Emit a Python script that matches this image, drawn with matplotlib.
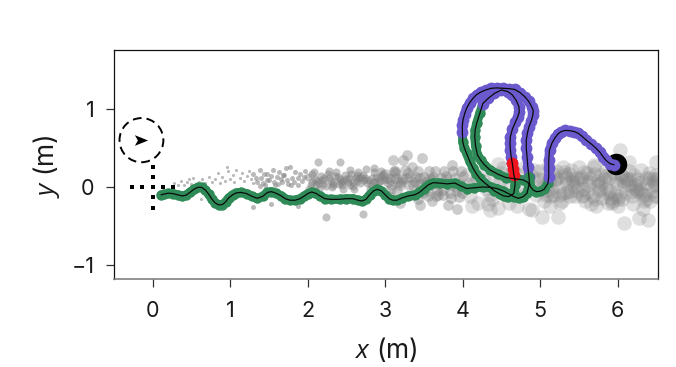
import matplotlib
matplotlib.use('Agg')
from matplotlib import pyplot as plt
from matplotlib.patches import Circle
from matplotlib.path import Path

plt.rcParams['font.family'] = ['Inter', 'DejaVu Sans']
plt.rcParams['mathtext.fontset'] = 'custom'
plt.rcParams['mathtext.it'] = 'Open Sans:italic'
plt.rcParams['mathtext.rm'] = 'Inter'

# trajectory, one list pair per behaviour segment
green1_x = [.11, .15, .20, .26, .32, .38, .43, .48, .53, .58, .63, .68, .72, .76, .80, .85, .90, .94, .98, 1.03,
            1.08, 1.14, 1.21, 1.28, 1.35, 1.42, 1.48, 1.53, 1.59, 1.65, 1.71, 1.77, 1.84, 1.90, 1.95, 2.00, 2.05,
            2.10, 2.16, 2.22, 2.30, 2.41, 2.50, 2.58, 2.65, 2.70, 2.75, 2.80, 2.85, 2.90, 2.95, 3.00, 3.05, 3.10,
            3.15, 3.22, 3.30, 3.38, 3.44, 3.50, 3.56, 3.62, 3.70, 3.80, 3.90, 3.98, 4.05, 4.15, 4.26, 4.36, 4.44,
            4.52, 4.60, 4.66, 4.72, 4.78, 4.83, 4.855, 4.84, 4.78, 4.68, 4.56, 4.45, 4.35, 4.28, 4.23, 4.19, 4.165,
            4.155, 4.16, 4.18, 4.22, 4.26]
green1_y = [-.10, -.09, -.08, -.085, -.10, -.115, -.105, -.07, -.03, -.005, -.005, -.04, -.09, -.15, -.20, -.23,
            -.225, -.19, -.14, -.10, -.075, -.07, -.085, -.12, -.145, -.12, -.07, -.06, -.08, -.11, -.15, -.17,
            -.17, -.15, -.12, -.085, -.065, -.08, -.115, -.15, -.16, -.158, -.15, -.15, -.17, -.18, -.16, -.10,
            -.05, -.03, -.05, -.10, -.15, -.17, -.17, -.14, -.115, -.10, -.07, -.02, .03, .055, .05, .04, .05,
            .01, -.02, -.01, 0, -.005, -.02, -.05, -.09, -.125, -.145, -.125, -.08, .025, .06, .09, .105, .12,
            .165, .22, .285, .346, .41, .53, .645, .73, .816, .944, 1.07]
purple1_x = [4.26, 4.33, 4.41, 4.50, 4.585, 4.64, 4.69, 4.725, 4.73, 4.71, 4.68, 4.64, 4.615, 4.61, 4.615, 4.625, 4.64]
purple1_y = [1.07, 1.137, 1.20, 1.244, 1.222, 1.18, 1.11, 1.03, .96, .90, .83, .74, .645, .56, .474, .39, .303]
red_x = [4.64, 4.65, 4.66]
red_y = [.303, .23, .154]
green2_x = [4.66, 4.675, 4.675, 4.66, 4.625, 4.585, 4.53, 4.477, 4.41, 4.35, 4.28, 4.22, 4.175, 4.133, 4.09, 4.05,
            4.02, 4.00, 3.995]
green2_y = [.154, .09, .026, -.08, -.11, -.124, -.115, -.09, -.05, 0, .055, .11, .17, .24, .33, .43, .505, .58, .71]
purple2_x = [3.995, 3.995, 4.004, 4.025, 4.05, 4.09, 4.133, 4.18, 4.24, 4.30, 4.37, 4.44, 4.52, 4.60, 4.67, 4.74,
             4.80, 4.85, 4.89, 4.91, 4.905, 4.885, 4.855, 4.835, 4.82, 4.82, 4.83, 4.84, 4.855]
purple2_y = [.71, .79, .86, .94, 1.01, 1.08, 1.137, 1.185, 1.22, 1.245, 1.265, 1.27, 1.265, 1.26, 1.25, 1.21,
             1.158, 1.10, 1.03, .98, .92, .85, .773, .69, .60, .50, .389, .26, .132]
green3_x = [4.855, 4.86, 4.873, 4.91, 4.95, 5.00, 5.05, 5.10, 5.11]
green3_y = [.132, .06, .004, -.04, -.06, -.055, -.03, .047, .132]
purple3_x = [5.11, 5.11, 5.11, 5.12, 5.15, 5.19, 5.23, 5.27, 5.32, 5.38, 5.44, 5.49, 5.54, 5.595, 5.66, 5.72, 5.77,
             5.81, 5.85, 5.90, 5.95]
purple3_y = [.132, .24, .346, .474, .56, .63, .68, .71, .725, .722, .71, .688, .65, .60, .55, .496, .445, .389,
             .34, .30, .285]

# gray detections, grouped by how large they are drawn
tiny_x = [.28, .33, .36, .40, .44, .47, .50, .52, .55, .60, .63, .68, .72, .76, .80, .84, .87, .90, .93, .97,
          1.00, 1.03, 1.05, 1.08, 1.12, 1.15, 1.18, .62, 1.21, 1.24, 1.27, 1.29, .96]
tiny_y = [.05, .02, .08, .03, .06, .10, .04, .12, .03, .07, .10, .05, .13, .06, .10, .18, .05, .13, .08, .20,
          .10, .15, .06, .22, .12, .18, .08, -.16, .14, .20, .10, .05, .25]
small_x = [1.30, 1.34, 1.38, 1.40, 1.45, 1.48, 1.50, 1.55, 1.58, 1.60, 1.63, 1.67, 1.70, 1.72, 1.75, 1.77, 1.80, 1.84,
           1.87, 1.90, 1.93, 1.97, 1.30, 1.42, 1.52, 1.65, 1.78, 1.87, 1.38, 1.33, 1.43, 1.47, 1.53, 1.57, 1.62, 1.68,
           1.73, 1.82, 1.88, 1.95]
small_y = [.17, .07, .22, .12, .03, .16, .09, .22, .02, .13, .19, .07, .15, .24, .04, .255, .12, .19,
           .03, .16, .08, .21, -.26, .05, -.22, .10, .02, -.25, .01, .12, .17, .09, .14, .06, .04, .15,
           .09, .07, .11, .13]
mid_x = [2.00, 2.04, 2.08, 2.12, 2.13, 2.17, 2.20, 2.23, 2.26, 2.30, 2.33, 2.37, 2.41, 2.41, 2.44, 2.48, 2.52, 2.55, 2.58,
         2.62, 2.65, 2.68, 2.71, 2.71, 2.75, 2.78, 2.81, 2.85, 2.88, 2.91, 2.95, 2.98, 2.01, 2.10, 2.23, 2.35, 2.50, 2.60,
         2.73, 2.85, 2.95, 2.15, 2.28, 2.45, 2.66, 2.90, 2.05, 2.40, 2.56, 2.80, 2.06, 2.14, 2.19, 2.27, 2.32, 2.39, 2.46,
         2.53, 2.59, 2.64, 2.69, 2.76, 2.83, 2.87, 2.93, 2.97, 2.11, 2.21, 2.31, 2.43, 2.54, 2.63, 2.74, 2.84, 2.92]
mid_y = [.13, .03, .19, .08, .32, .14, .04, -.385, .17, .08, .02, .19, .32, .10, .03, .15, .06, .22, .01,
         .12, .19, .05, -.35, .15, .23, .09, .03, .19, .13, .04, .21, .09, -.02, .10, .01, .14, .10, -.02,
         .09, .24, .14, -.03, .21, -.03, .11, -.05, .07, .04, .16, -.03, .16, .05, .09, .12, .05, .13, .08,
         .11, .07, .08, .13, .05, .12, .07, .08, .16, .02, .12, .00, .06, .02, .15, .12, .06, .11]
big_x = [3.00, 3.03, 3.07, 3.10, 3.11, 3.14, 3.19, 3.19, 3.23, 3.28, 3.30, 3.34, 3.38, 3.42, 3.45, 3.47, 3.50, 3.53,
         3.57, 3.60, 3.64, 3.68, 3.72, 3.76, 3.81, 3.86, 3.90, 3.92, 3.96, 4.00, 3.06, 3.15, 3.25, 3.35, 3.45, 3.55,
         3.65, 3.75, 3.85, 3.95, 3.12, 3.32, 3.52, 3.70, 3.88, 3.05, 3.22, 3.42, 3.60, 3.80, 3.98, 3.08, 3.17, 3.27,
         3.36, 3.44, 3.55, 3.62, 3.71, 3.78, 3.84, 3.93, 3.02, 3.13, 3.21, 3.31, 3.40, 3.49, 3.58, 3.67, 3.74, 3.83,
         3.91, 3.99]
big_y = [.17, .06, -.03, .346, .21, .12, .02, -.205, .346, .41, .18, .256, .07, .20, -.23, .37, .13, .03,
         .20, .09, .21, -.10, .12, .21, -.23, .28, .12, -.28, .04, .14, .10, -.05, .22, -.10, .12, -.12,
         -.12, -.10, -.14, -.13, .20, .13, .07, .02, .20, -.12, .10, -.16, -.18, .10, .20, .02, .06, .12,
         .02, .04, -.05, .13, .05, .14, .03, -.05, .12, .18, .06, .03, .13, -.08, .10, -.05, -.04, -.08,
         .00, -.08]
huge_x = [4.05, 4.10, 4.15, 4.20, 4.25, 4.30, 4.35, 4.40, 4.45, 4.50, 4.55, 4.60, 4.65, 4.70, 4.75, 4.80, 4.85, 4.90,
          4.95, 5.00, 5.02, 5.05, 5.10, 5.15, 5.20, 5.23, 5.25, 5.30, 5.35, 5.40, 5.45, 5.50, 5.55, 5.60, 5.65, 5.70,
          5.75, 5.80, 5.85, 5.90, 5.95, 6.00, 6.03, 6.05, 6.08, 6.10, 6.15, 6.20, 6.25, 6.28, 6.30, 6.35, 6.39, 6.40,
          6.45, 6.50, 4.08, 4.18, 4.28, 4.38, 4.48, 4.58, 4.68, 4.78, 4.88, 4.98, 5.08, 5.18, 5.28, 5.38, 5.48, 5.58,
          5.68, 5.78, 5.88, 5.98, 6.08, 6.18, 6.28, 6.38, 6.48, 4.12, 4.32, 4.52, 4.72, 4.92, 5.12, 5.32, 5.52, 5.72,
          5.92, 6.12, 6.32, 6.52, 5.03, 5.17, 5.33, 5.47, 5.63, 5.77, 5.93, 6.07, 6.23, 6.37, 6.50, 5.20, 5.42, 5.62,
          5.82, 6.02, 6.22, 6.42, 4.35, 4.45, 4.90, 5.70, 6.15, 5.05, 5.35, 5.55, 5.85, 6.25, 6.45,
          5.06, 5.13, 5.21, 5.29, 5.37, 5.44, 5.53, 5.61, 5.69, 5.76, 5.84, 5.91, 5.99, 6.06, 6.14, 6.21, 6.29, 6.36,
          6.44, 6.51, 5.09, 5.16, 5.24, 5.31, 5.39, 5.46, 5.54, 5.64, 5.71, 5.79, 5.87, 5.96, 6.04, 6.11, 6.19, 6.27,
          6.34, 6.41, 6.49, 5.11, 5.26, 5.41, 5.56, 5.74, 5.89, 6.01, 6.16, 6.33, 6.47]
huge_y = [.15, -.12, .05, -.20, .20, -.02, -.295, .10, -.27, .18, -.10, -.20, .22, -.25, -.05, .26, -.28, .14,
          -.10, .20, -.385, -.18, .26, -.05, .20, -.385, -.20, .25, .05, .22, -.12, .26, -.02, .18, -.22, .25,
          .08, -.14, .22, -.05, .18, -.25, .47, .14, -.46, -.08, .20, -.22, .10, -.40, .22, -.10, -.42, .18,
          -.05, .32, .02, .12, .08, -.15, .08, .02, .10, -.10, .04, .10, -.10, .08, -.18, -.05, .12, -.18,
          -.12, .05, -.20, .08, .02, -.12, -.02, .05, -.12, -.25, -.22, .24, .15, .22, -.25, .15, .10, -.25,
          -.20, .10, -.28, .12, .02, -.10, .12, -.05, .06, -.02, -.18, .08, -.02, -.15, .02, .10, .06, .03,
          .10, -.12, .02, -.18, -.10, .30, -.30, .28, .32, .10, -.06, -.10, -.02, -.05, .10,
          .03, -.12, .12, -.08, .16, .01, .13, -.07, .17, -.05, .14, -.14, .05, -.15, .02, .15, -.06, .12,
          .01, -.12, -.04, .16, .00, .19, -.12, .06, -.11, .12, -.15, .15, -.08, -.10, .16, .10, -.05, .05,
          -.18, .11, .15, .08, -.10, .10, .19, .02, .11, -.15, .10, -.10, .07]

# start marker
cross_h = [-.27, -.14, 0, .13, .26]
cross_v = [.26, .13, 0, -.13, -.27]
start_x, start_y = -.146, .60
end_x, end_y = 5.98, .29

GREEN = '#2e8b57'
PURPLE = '#6a5acd'
RED = '#f0141e'
GRAY = '#808080'

fig = plt.figure(figsize=(6.76, 3.67), dpi=100)
ax = fig.add_axes([114 / 676, 1 - 279 / 367, (658 - 114) / 676, (279 - 50) / 367])

ax.scatter(tiny_x, tiny_y, s=5, c=GRAY, alpha=.55, linewidths=0, zorder=1)
ax.scatter(small_x, small_y, s=13, c=GRAY, alpha=.55, linewidths=0, zorder=1)
ax.scatter(mid_x, mid_y, s=34, c=GRAY, alpha=.48, linewidths=0, zorder=1)
ax.scatter(big_x, big_y, s=60, c=GRAY, alpha=.4, linewidths=0, zorder=1)
ax.scatter(huge_x, huge_y, s=110, c=GRAY, alpha=.25, linewidths=0, zorder=1)

# dotted cross and heading circle
ax.plot(cross_h, [0] * len(cross_h), 's', color='k', ms=3.1, mew=0, zorder=2)
ax.plot([0] * len(cross_v), cross_v, 's', color='k', ms=3.1, mew=0, zorder=2)
ax.add_patch(Circle((start_x, start_y), .283, fill=False, ec='k', lw=1.4, ls=(0, (4.5, 2.6)), zorder=2))
head = Path([(-1, .8), (1, 0), (-1, -.8), (-.55, 0), (-1, .8)],
            [Path.MOVETO, Path.LINETO, Path.LINETO, Path.LINETO, Path.CLOSEPOLY])
ax.plot([start_x], [start_y], marker=head, color='k', ms=9.5, mew=0, zorder=2)

ax.plot([end_x], [end_y], 'o', color='k', ms=15.5, mew=0, zorder=3)

segments = [(green1_x, green1_y, GREEN), (green2_x, green2_y, GREEN), (purple1_x, purple1_y, PURPLE),
            (purple2_x, purple2_y, PURPLE), (green3_x, green3_y, GREEN), (purple3_x, purple3_y, PURPLE),
            (red_x, red_y, RED)]
for xs, ys, col in segments:
    ms = 8.5 if col != GREEN else 7.5
    ax.plot(xs, ys, '-', color=col, lw=6.5, marker='o', ms=ms, mew=0, solid_joinstyle='round',
            solid_capstyle='round', zorder=4)

path_x = green1_x + purple1_x + red_x + green2_x + purple2_x + green3_x + purple3_x
path_y = green1_y + purple1_y + red_y + green2_y + purple2_y + green3_y + purple3_y
ax.plot(path_x, path_y, '-', color='#0a0a0a', lw=.9, solid_joinstyle='round', zorder=5)

ax.set_xlim(-.5, 6.52)
ax.set_ylim(-1.18, 1.756)
ax.set_xticks([0, 1, 2, 3, 4, 5, 6])
ax.set_yticks([-1, 0, 1])
ax.tick_params(length=6, width=.9, labelsize=15.5, color='#333333', labelcolor='#1a1a1a')
ax.tick_params(axis='x', pad=10)
ax.tick_params(axis='y', pad=8)
for name in ['top', 'right', 'left']:
    ax.spines[name].set_linewidth(.9)
    ax.spines[name].set_color('#111111')
ax.spines['bottom'].set_linewidth(1.1)
ax.spines['bottom'].set_color('#777777')

fig.text(386 / 676, 1 - 350 / 367, r'$x$ (m)', fontsize=19, ha='center', va='center', color='#1a1a1a')
fig.text(47 / 676, 1 - 166 / 367, r'$y$ (m)', fontsize=19, ha='center', va='center', rotation=90, color='#1a1a1a')

fig.savefig('out.png', dpi=100)
